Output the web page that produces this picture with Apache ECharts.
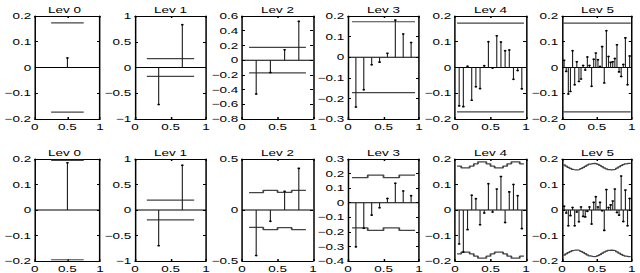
<!DOCTYPE html>
<html><head><meta charset="utf-8">
<script src="https://cdn.jsdelivr.net/npm/echarts@6/dist/echarts.min.js"></script>
<style>
html,body{margin:0;padding:0;background:#fff;overflow:hidden}
#wrap{width:640px;height:273px;overflow:hidden}
#c{width:427px;height:273px;transform:scaleX(1.498829);transform-origin:0 0}
</style>
</head><body><div id="wrap"><div id="c"></div></div>
<script>
// ---------- data ----------
const levelTitles = ['Lev 0', 'Lev 1', 'Lev 2', 'Lev 3', 'Lev 4', 'Lev 5'];
const xTickValues = [0, 0.5, 1];

// top row coefficients
const lev0Top = [0.037];
const lev1Top = [-0.72, 0.83];
const lev2Top = [-0.46, -0.168, 0.14, 0.527];
const lev3Top = [-0.242, -0.158, -0.037, -0.024, 0.019, 0.18, 0.113, 0.071];
const lev4Top = [-0.149, -0.152, 0.005, -0.127, -0.075, -0.082, 0.007, 0.100,
                 -0.002, 0.123, 0.099, 0.065, 0.068, -0.046, -0.012, -0.083];
const lev5Top = [0.028, -0.015, -0.103, -0.093, 0.065, -0.067, 0.022, -0.054,
                 -0.045, 0.008, -0.010, 0.041, 0.008, -0.073, 0.032, 0.056,
                 0.030, 0.004, 0.081, -0.060, 0.143, 0.043, 0.020, 0.022,
                 0.035, 0.088, -0.017, -0.035, 0.012, 0.115, -0.067, 0.045];
// top row thresholds (one value per coefficient)
const thr0Top = [0.173];
const thr1Top = [0.173, 0.173];
const thr2Top = [0.173, 0.173, 0.173, 0.173];
const thr3Top = [0.172, 0.172, 0.172, 0.172, 0.172, 0.172, 0.172, 0.172];
const thr4Top = [0.172, 0.172, 0.172, 0.172, 0.172, 0.172, 0.172, 0.172,
                 0.172, 0.172, 0.172, 0.172, 0.172, 0.172, 0.172, 0.172];
const thr5Top = [0.172, 0.172, 0.172, 0.172, 0.172, 0.172, 0.172, 0.172,
                 0.172, 0.172, 0.172, 0.172, 0.172, 0.172, 0.172, 0.172,
                 0.172, 0.172, 0.172, 0.172, 0.172, 0.172, 0.172, 0.172,
                 0.172, 0.172, 0.172, 0.172, 0.172, 0.172, 0.172, 0.172];

// bottom row coefficients
const lev0Bot = [0.185];
const lev1Bot = [-0.70, 0.877];
const lev2Bot = [-0.447, -0.11, 0.183, 0.408];
const lev3Bot = [-0.303, -0.175, -0.085, -0.035, 0.029, 0.134, 0.081, 0.048];
const lev4Bot = [-0.133, -0.165, -0.077, 0.058, 0.044, -0.058, -0.012, 0.103,
                 -0.008, 0.082, 0.131, -0.049, 0.071, 0.100, 0.056, -0.073];
const lev5Bot = [0.015, -0.012, -0.062, -0.022, 0.010, -0.062, -0.008, -0.046,
                 0.012, -0.025, -0.027, -0.005, 0.012, -0.055, 0.030, 0.052,
                 0.012, 0.030, -0.003, -0.080, 0.080, 0.010, 0.020, 0.035,
                 0.082, -0.010, -0.020, 0.133, -0.045, 0.078, -0.062, 0.045];
// bottom row thresholds (one value per coefficient)
const thr0Bot = [0.195];
const thr1Bot = [0.195, 0.195];
const thr2Bot = [0.171, 0.193, 0.173, 0.192];
const thr3Bot = [0.172, 0.172, 0.190, 0.190, 0.172, 0.172, 0.190, 0.190];
const thr4Bot = [0.172, 0.165, 0.165, 0.172, 0.181, 0.189, 0.189, 0.181,
                 0.172, 0.165, 0.165, 0.172, 0.181, 0.189, 0.189, 0.181];
const thr5Bot = [0.177, 0.172, 0.167, 0.163, 0.159, 0.157, 0.157, 0.159,
                 0.162, 0.166, 0.171, 0.176, 0.180, 0.182, 0.183, 0.182,
                 0.179, 0.175, 0.170, 0.165, 0.161, 0.158, 0.157, 0.158,
                 0.160, 0.164, 0.169, 0.174, 0.178, 0.181, 0.183, 0.183];

// y axes
const topYMin = [-0.2, -1, -0.8, -0.3, -0.2, -0.2];
const topYMax = [0.2, 1, 0.6, 0.2, 0.2, 0.2];
const topYStep = [0.1, 0.5, 0.2, 0.1, 0.1, 0.1];
const botYMin = [-0.2, -1, -0.5, -0.4, -0.2, -0.2];
const botYMax = [0.2, 1, 0.5, 0.3, 0.2, 0.2];
const botYStep = [0.1, 0.5, 0.5, 0.1, 0.1, 0.1];

const topCoefs = [lev0Top, lev1Top, lev2Top, lev3Top, lev4Top, lev5Top];
const topThr = [thr0Top, thr1Top, thr2Top, thr3Top, thr4Top, thr5Top];
const botCoefs = [lev0Bot, lev1Bot, lev2Bot, lev3Bot, lev4Bot, lev5Bot];
const botThr = [thr0Bot, thr1Bot, thr2Bot, thr3Bot, thr4Bot, thr5Bot];

// ---------- layout (target pixels; container is stretched horizontally) ----------
const S = 640 / 427;
const boxLeft = [29, 135, 242, 348, 455, 562];
const boxW = 71;
const rowTop = [16, 159];
const rowH = [103, 104];
const titleY = [9.5, 152.5];
const FONT = 'Liberation Sans, Arial, Helvetica, sans-serif';
const FS = 9;

function fmt(v) {
  const r = Math.round(v * 1000) / 1000;
  const s = String(Math.abs(r));
  return (r < 0 ? '\u2212' : '') + s;
}

const grids = [], xAxes = [], yAxes = [], series = [], graphics = [];
const rows = [
  {coefs: topCoefs, thr: topThr, ymin: topYMin, ymax: topYMax, ystep: topYStep},
  {coefs: botCoefs, thr: botThr, ymin: botYMin, ymax: botYMax, ystep: botYStep}
];

rows.forEach((row, r) => {
  for (let c = 0; c < 6; c++) {
    const g = r * 6 + c;
    grids.push({left: boxLeft[c] / S, top: rowTop[r], width: boxW / S, height: rowH[r],
      show: false, containLabel: false});
    const axLine = {show: true, onZero: false, lineStyle: {color: '#000', width: 1}};
    const tick = {show: true, inside: true, length: 2, lineStyle: {color: '#000', width: 1}};
    const lab = {show: true, color: '#000', fontSize: FS, fontFamily: FONT, formatter: fmt,
      showMinLabel: true, showMaxLabel: true, hideOverlap: false};
    xAxes.push({type: 'value', gridIndex: g, position: 'bottom', min: xTickValues[0],
      max: xTickValues[2], interval: xTickValues[1] - xTickValues[0],
      axisLine: axLine, axisTick: tick, splitLine: {show: false},
      axisLabel: Object.assign({}, lab, {margin: 3})});
    xAxes.push({type: 'value', gridIndex: g, position: 'top', min: xTickValues[0],
      max: xTickValues[2], interval: xTickValues[1] - xTickValues[0],
      axisLine: axLine, axisTick: tick, splitLine: {show: false}, axisLabel: {show: false}});
    yAxes.push({type: 'value', gridIndex: g, position: 'left', min: row.ymin[c], max: row.ymax[c],
      interval: row.ystep[c], axisLine: axLine, axisTick: tick, splitLine: {show: false},
      axisLabel: Object.assign({}, lab, {margin: 2.5})});
    yAxes.push({type: 'value', gridIndex: g, position: 'right', min: row.ymin[c], max: row.ymax[c],
      interval: row.ystep[c], axisLine: axLine, axisTick: tick, splitLine: {show: false},
      axisLabel: {show: false}});

    const vals = row.coefs[c];
    const n = vals.length;
    const h = 1 / (n + 1);
    const xs = vals.map((v, i) => (i + 1) * h);
    const tv = row.thr[c];
    const up = [], dn = [];
    xs.forEach((x, i) => {
      up.push([x - h / 2, tv[i]], [x + h / 2, tv[i]]);
      dn.push([x - h / 2, -tv[i]], [x + h / 2, -tv[i]]);
    });
    const ax = {xAxisIndex: g * 2, yAxisIndex: g * 2};
    const lineBase = {type: 'line', showSymbol: false, symbol: 'none', silent: true,
      animation: false, z: 2};
    series.push(Object.assign({}, lineBase, ax, {data: [[0, 0], [1, 0]],
      lineStyle: {color: '#000', width: 1}}));
    series.push(Object.assign({}, lineBase, ax, {data: up, lineStyle: {color: '#444', width: 1.2}}));
    series.push(Object.assign({}, lineBase, ax, {data: dn, lineStyle: {color: '#444', width: 1.2}}));
    series.push(Object.assign({}, ax, {
      type: 'custom', silent: true, animation: false, z: 3,
      data: xs.map((x, i) => [x, vals[i]]),
      renderItem: function (params, api) {
        const x = api.value(0), y = api.value(1);
        const a = api.coord([x, 0]), b = api.coord([x, y]);
        return {type: 'group', children: [
          {type: 'line', shape: {x1: a[0], y1: a[1], x2: b[0], y2: b[1]},
            style: {stroke: '#222', lineWidth: 0.75}},
          {type: 'circle', shape: {cx: b[0], cy: b[1], r: 0.9}, style: {fill: '#000'}}
        ]};
      }
    }));

    graphics.push({type: 'text', x: (boxLeft[c] + boxW / 2) / S, y: titleY[r],
      style: {text: levelTitles[c], fill: '#000', fontSize: FS, fontFamily: FONT,
        align: 'center', verticalAlign: 'middle'}});
  }
});

const chart = echarts.init(document.getElementById('c'), null, {renderer: 'svg'});
chart.setOption({
  animation: false,
  backgroundColor: '#fff',
  grid: grids, xAxis: xAxes, yAxis: yAxes, series: series, graphic: graphics
});
</script>
</body></html>
